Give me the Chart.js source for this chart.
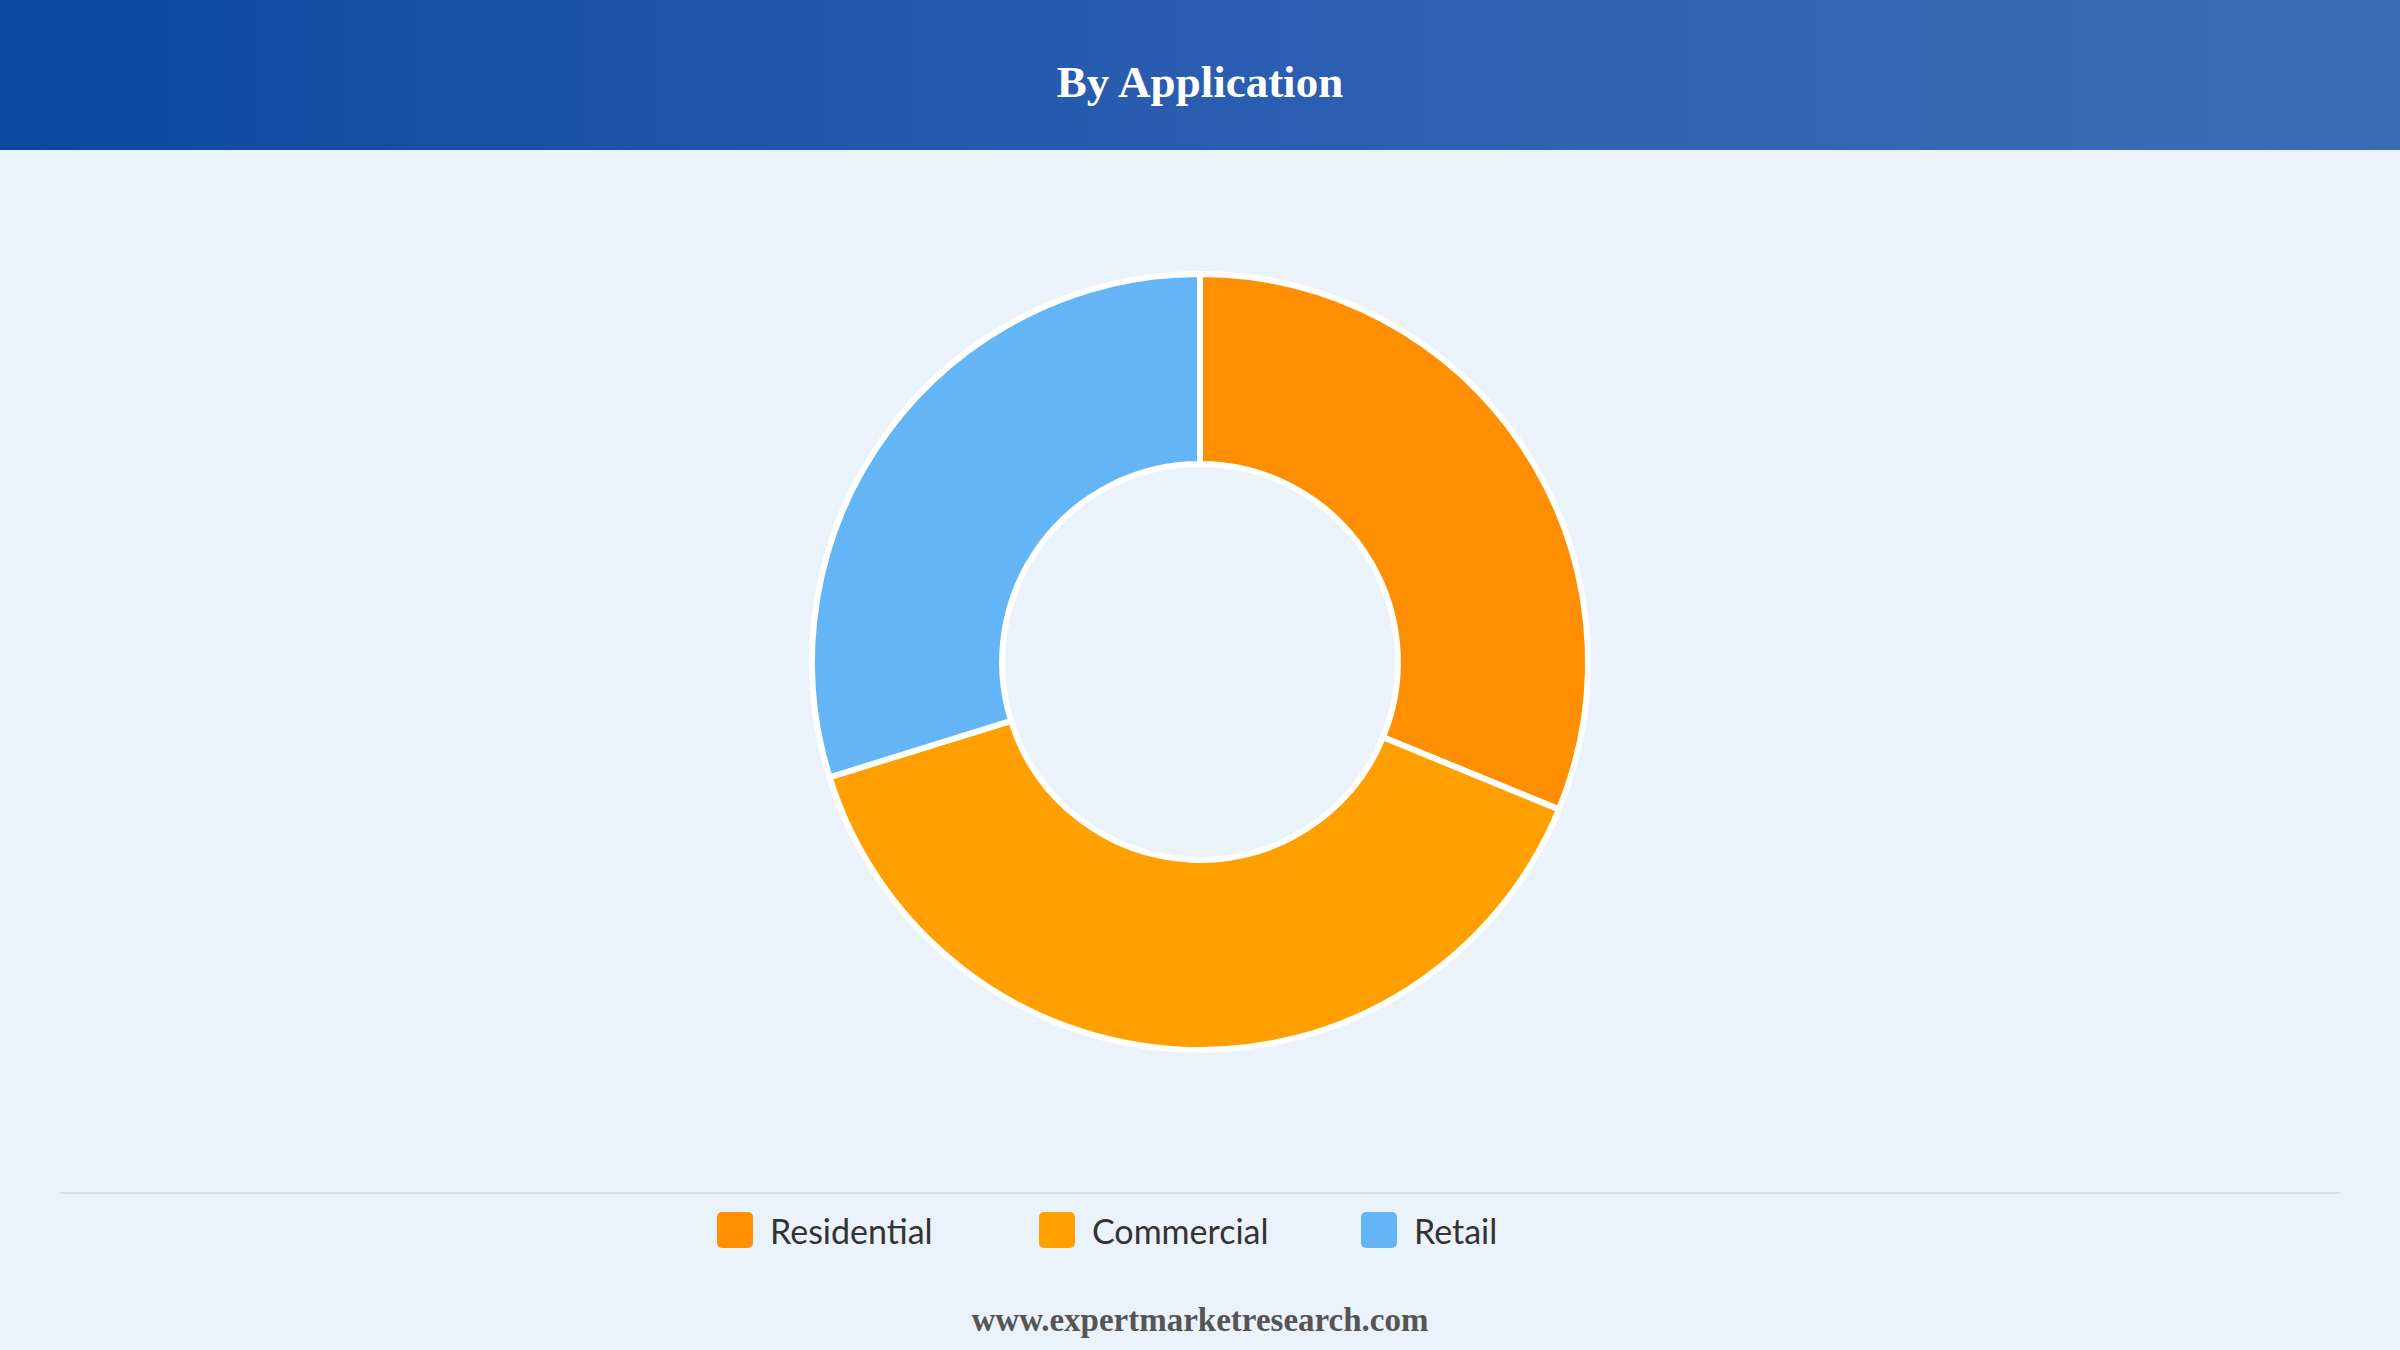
<!DOCTYPE html>
<html>
<head>
<meta charset="utf-8">
<title>By Application</title>
<script src="https://cdn.jsdelivr.net/npm/chart.js@4.4.0/dist/chart.umd.min.js"></script>
<style>
  html, body { margin: 0; padding: 0; }
  body {
    width: 2400px; height: 1350px; position: relative; overflow: hidden;
    background: #eaf2fb;
  }
  .header {
    position: absolute; left: 0; top: 0; width: 2400px; height: 150px;
    background: linear-gradient(90deg, #0d47a1 0%, #2a5db0 50%, #3c6cb4 100%);
  }
  .header h1 {
    position: absolute; left: 0; right: 0; top: 56px; margin: 0;
    text-align: center; color: #fff; line-height: 1;
    font: bold 45px "Liberation Serif", "Times New Roman", serif;
  }
  #chartBox { position: absolute; left: 0; top: 150px; width: 2400px; height: 1024px; }
  .rule {
    position: absolute; left: 60px; top: 1192px; width: 2280px; height: 2px;
    background: #dcdfe3;
  }
  #legend {
    position: absolute; left: 717px; top: 1212px; width: 966px; height: 36px;
    display: flex; margin: 0; padding: 0; list-style: none;
  }
  #legend li {
    width: 322px; display: flex; align-items: center;
    font: 34px Lato, "Open Sans", sans-serif; color: #333;
  }
  #legend .box { width: 36px; height: 36px; border-radius: 5px; margin-right: 17px; flex: none; }
  .footer {
    position: absolute; left: 0; right: 0; top: 1302px; text-align: center;
    line-height: 1; color: #555;
    font: bold 33px "Liberation Serif", "Times New Roman", serif;
  }
</style>
</head>
<body>
<div class="header"><h1>By Application</h1></div>
<div id="chartBox"><canvas id="appChart"></canvas></div>
<div class="rule"></div>
<ul id="legend"></ul>
<div class="footer">www.expertmarketresearch.com</div>

<script>
// Share of market by application (%)
const categories = ['Residential', 'Commercial', 'Retail'];
const shares = [31.2, 39.0, 29.8];
const sliceColors = ['#ff8f00', '#ffa000', '#64b5f6'];

// Legend built in HTML so each item gets the same fixed slot
function buildLegend(chart) {
    const list = document.getElementById('legend');
    list.innerHTML = '';
    const items = chart.options.plugins.legend.labels.generateLabels(chart);
    items.forEach(item => {
        const li = document.createElement('li');
        const box = document.createElement('span');
        box.className = 'box';
        box.style.background = item.fillStyle;
        li.appendChild(box);
        li.appendChild(document.createTextNode(item.text));
        list.appendChild(li);
    });
}

document.addEventListener('DOMContentLoaded', function () {
    const ctx = document.getElementById('appChart').getContext('2d');
    const chart = new Chart(ctx, {
        type: 'doughnut',
        data: {
            labels: categories,
            datasets: [{
                data: shares,
                backgroundColor: sliceColors,
                borderColor: '#ffffff',
                borderWidth: 6,
                hoverOffset: 0
            }]
        },
        options: {
            responsive: true,
            maintainAspectRatio: false,
            animation: false,
            radius: 388,
            cutout: '51%',
            layout: { padding: 0 },
            plugins: {
                legend: { display: false },
                tooltip: { enabled: false }
            }
        }
    });
    buildLegend(chart);
});
</script>
</body>
</html>
